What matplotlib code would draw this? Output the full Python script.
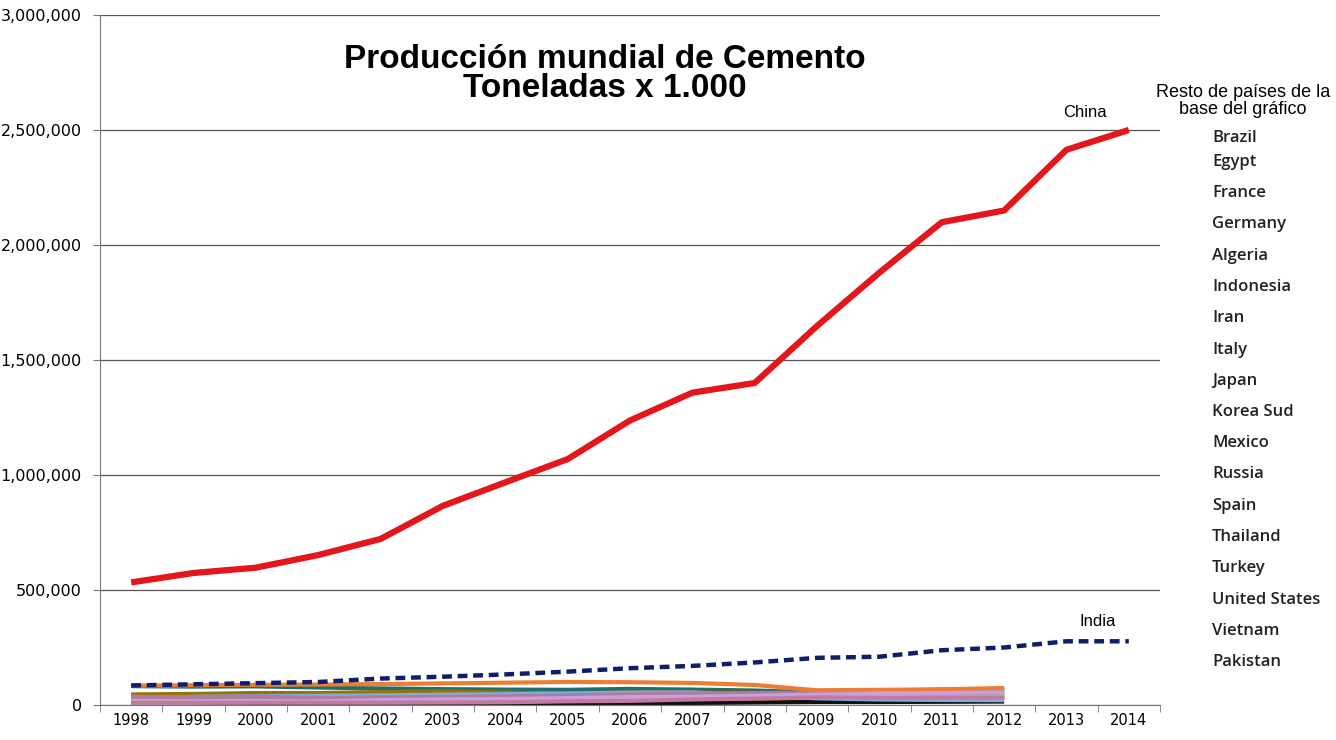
import matplotlib.pyplot as plt
from matplotlib.ticker import FuncFormatter

years = list(range(1998, 2015))
years_rest = list(range(1998, 2013))

china = [533, 574, 597, 652, 722, 866, 968, 1069, 1237, 1358, 1400, 1648, 1880, 2099, 2150, 2414, 2500]
india = [85, 90, 95, 100, 115, 123, 133, 145, 160, 170, 185, 205, 210, 238, 250, 277, 277]

# resto de paises (miles de toneladas), 1998-2012
rest_names = ["Brazil", "Egypt", "France", "Germany", "Algeria", "Indonesia", "Iran", "Italy",
              "Japan", "Korea Sud", "Mexico", "Russia", "Spain", "Thailand", "Turkey",
              "United States", "Vietnam", "Pakistan"]
brazil = [40, 40, 40, 39, 38, 34, 34, 37, 42, 46, 52, 52, 59, 64, 69]
egypt = [16, 21, 24, 25, 27, 27, 29, 29, 32, 37, 39, 47, 48, 44, 50]
france = [20, 20, 20, 20, 20, 20, 21, 21, 22, 22, 21, 18, 19, 20, 19]
germany = [37, 38, 38, 32, 31, 32, 32, 32, 34, 34, 34, 30, 29, 34, 32]
algeria = [3, 3, 3, 3, 3, 3, 4, 5, 7, 9, 11, 13, 13, 14, 15]
indonesia = [22, 24, 27, 31, 33, 35, 37, 38, 37, 35, 38, 37, 40, 45, 32]
iran = [20, 22, 24, 26, 28, 30, 32, 33, 33, 40, 44, 48, 62, 67, 70]
italy = [36, 37, 38, 40, 41, 43, 46, 46, 47, 47, 43, 36, 34, 33, 26]
japan = [82, 80, 81, 76, 72, 69, 67, 66, 70, 67, 63, 55, 52, 51, 52]
korea = [46, 48, 52, 52, 56, 59, 54, 48, 55, 57, 52, 50, 47, 48, 47]
mexico = [28, 29, 32, 32, 32, 33, 34, 37, 40, 41, 41, 36, 35, 35, 36]
russia = [26, 28, 32, 35, 37, 41, 45, 49, 55, 60, 53, 44, 50, 56, 62]
spain = [28, 36, 38, 40, 42, 45, 47, 50, 54, 55, 42, 29, 24, 22, 21]
thailand = [22, 25, 25, 27, 31, 32, 35, 37, 40, 40, 35, 31, 35, 36, 37]
turkey = [36, 34, 36, 30, 33, 35, 38, 42, 47, 50, 52, 54, 63, 64, 64]
usa = [84, 86, 88, 89, 91, 94, 97, 100, 99, 96, 87, 64, 66, 68, 74]
vietnam = [5, 10, 13, 16, 21, 24, 26, 30, 34, 36, 40, 45, 50, 52, 55]
pakistan = [10, 10, 10, 10, 10, 11, 12, 16, 18, 24, 28, 33, 31, 32, 32]
rest_values = [brazil, egypt, france, germany, algeria, indonesia, iran, italy, japan, korea,
               mexico, russia, spain, thailand, turkey, usa, vietnam, pakistan]
rest_colors = ["#5B9BD5", "#A5A5A5", "#FFC000", "#4472C4", "#111111", "#255E91", "#9E480E",
               "#70AD47", "#1F6F6F", "#997300", "#264478", "#43682B", "#7CAFDD", "#B7B7B7",
               "#B07AA1", "#ED7D31", "#C9A0DC", "#C27BA0"]

fig = plt.figure(figsize=(13.36, 7.4), dpi=100)
ax = fig.add_axes([100 / 1336, 1 - 705 / 740, 1060 / 1336, 690 / 740])

for vals, col in zip(rest_values, rest_colors):
    ax.plot(years_rest, [v * 1000 for v in vals], color=col, lw=3, solid_capstyle="butt")

ax.plot(years, [v * 1000 for v in india], color="#0D1F6B", lw=3.2, dashes=(2.2, 1.3))
ax.plot(years, [v * 1000 for v in china], color="#E3161B", lw=4.5, solid_capstyle="butt")

ax.set_xlim(1997.5, 2014.5)
ax.set_ylim(0, 3000000)
ax.set_yticks(range(0, 3000001, 500000))
ax.yaxis.set_major_formatter(FuncFormatter(lambda v, p: f"{int(v):,}"))
ax.set_xticks(years)
ax.set_xticks([y - 0.5 for y in years] + [2014.5], minor=True)
ax.tick_params(axis="x", which="major", length=0, labelsize=10.5, pad=6)
ax.tick_params(axis="x", which="minor", length=5, direction="out", color="#777777")
ax.tick_params(axis="y", length=5, labelsize=11.5, color="#777777", pad=8)
ax.grid(axis="y", color="#555555", lw=0.9)
ax.set_axisbelow(True)
for s in ["top", "right"]:
    ax.spines[s].set_visible(False)
ax.spines["left"].set_color("#777777")
ax.spines["bottom"].set_color("#777777")

ax.text(2013.3, 2545000, "China", ha="center", va="bottom", fontsize=12, family="Liberation Sans")
ax.text(2013.5, 330000, "India", ha="center", va="bottom", fontsize=12, family="Liberation Sans")

fig.text(605 / 1336, 1 - 74 / 740, "Producción mundial de Cemento\nToneladas x 1.000", ha="center",
         va="center", fontsize=24, fontweight="bold", family="Liberation Sans", linespacing=0.92)

fig.text(1243 / 1336, 1 - 101 / 740, "Resto de países de la\nbase del gráfico", ha="center",
         va="center", fontsize=13, family="Liberation Sans", linespacing=1.0)
for i, name in enumerate(rest_names):
    ypix = 138 if i == 0 else 162 + 31.25 * (i - 1)
    fig.text(1212 / 1336, 1 - ypix / 740, name, ha="left", va="center", fontsize=12,
             family="Open Sans", fontweight="semibold", color="#222222")

fig.savefig("out.png", dpi=100)
